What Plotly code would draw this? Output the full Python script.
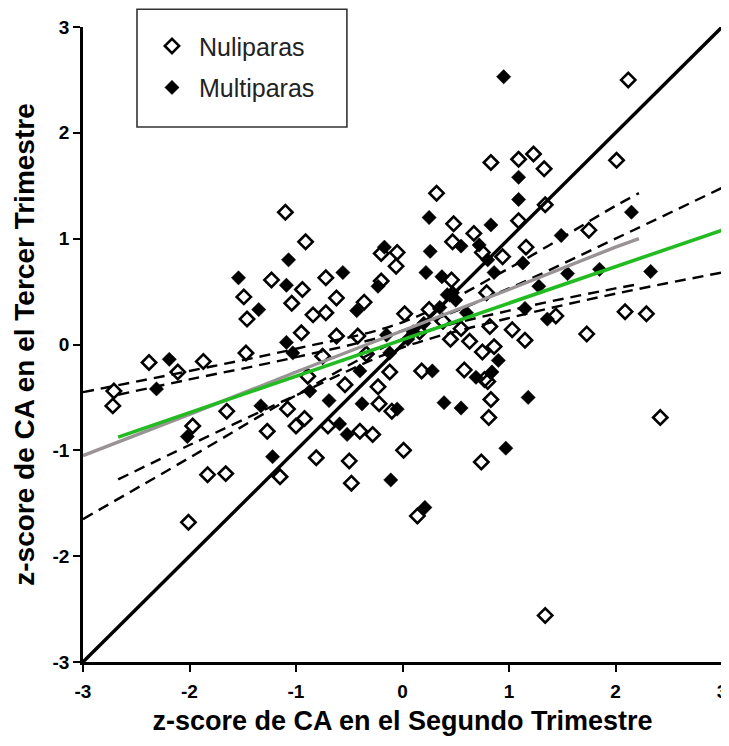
import plotly.graph_objects as go

# Nuliparas (open diamonds)
nul_x = [2.12, 0.32, 0.83, 1.09, 1.23, 1.33, 2.01, 0.48, 1.09, 1.34, 0.67, 0.47, 1.75, 0.94, 1.16,
         0.79, 1.44, 2.09, 2.29, 1.73, 1.15, 0.82, 1.03, 0.02, -1.10, -0.91, -1.23, -0.94, -0.72,
         -1.49, -1.04, -0.84, -0.72, -1.46, -0.20, -0.05, -0.06, -0.20, -0.62, -0.36, 0.46, 0.75,
         -2.38, -2.11, -1.87, -1.47, -2.71, -2.72, -1.65, -1.97, -1.27, -1.08, -1.00, -0.92, -1.83,
         -1.66, -1.15, -2.01, -0.95, -0.89, -0.81, -0.50, -0.48, 0.01, -0.22, -0.10, -0.70, -0.40,
         -0.28, -0.12, -0.23, -0.54, -0.75, -0.34, -0.62, -0.42, 0.18, 0.58, 0.77, 0.75, 0.63, 0.86,
         0.81, 0.83, 0.80, 0.74, 0.14, 1.34, 2.42, 0.25, 0.16, 0.45, 0.38, 0.55]
nul_y = [2.50, 1.43, 1.72, 1.75, 1.80, 1.66, 1.74, 1.14, 1.17, 1.32, 1.05, 0.97, 1.08, 0.83, 0.92,
         0.49, 0.27, 0.31, 0.29, 0.10, 0.04, 0.17, 0.14, 0.29, 1.25, 0.97, 0.61, 0.52, 0.63,
         0.45, 0.39, 0.28, 0.30, 0.24, 0.86, 0.87, 0.74, 0.60, 0.44, 0.40, 0.61, 0.87,
         -0.17, -0.26, -0.16, -0.08, -0.44, -0.58, -0.63, -0.77, -0.82, -0.61, -0.77, -0.70, -1.23,
         -1.22, -1.25, -1.68, 0.11, -0.30, -1.07, -1.10, -1.31, -1.00, -0.56, -0.63, -0.77, -0.82,
         -0.85, -0.26, -0.40, -0.38, -0.11, -0.09, 0.08, 0.08, -0.25, -0.24, -0.33, -0.07, 0.03, -0.02,
         -0.69, -0.52, -0.35, -1.11, -1.62, -2.56, -0.69, 0.33, 0.12, 0.05, 0.22, 0.15]

# Multiparas (filled diamonds)
mul_x = [0.95, 1.09, 1.09, 0.25, 0.83, 2.15, 1.49, 0.26, 0.22, 0.37, 0.47, 0.86, 1.13, 1.55, 1.85,
         2.33, 1.28, 1.15, 1.36, 0.55, 0.72, -0.17, -0.56, -0.23, -0.43, -1.07, -1.54, -1.09, -1.35,
         -2.19, -2.31, -2.02, -1.33, -1.22, -1.09, -1.03, -0.87, -0.69, -0.38, -0.05, -0.59, -0.52,
         -0.11, -0.15, -0.12, -0.40, 0.28, 0.69, 0.39, 0.55, 0.90, 0.84, 1.18, 0.97, 0.21,
         0.42, 0.50, 0.35, 0.10, 0.05, 0.60, 0.20, 0.80]
mul_y = [2.53, 1.58, 1.37, 1.20, 1.13, 1.25, 1.03, 0.88, 0.68, 0.64, 0.49, 0.68, 0.77, 0.67, 0.71,
         0.69, 0.55, 0.34, 0.24, 0.93, 0.94, 0.92, 0.68, 0.55, 0.32, 0.80, 0.63, 0.56, 0.33,
         -0.14, -0.42, -0.87, -0.58, -1.06, 0.02, -0.08, -0.44, -0.53, -0.56, -0.61, -0.75, -0.85,
         -1.28, 0.09, -0.08, -0.25, -0.25, -0.31, -0.55, -0.60, -0.15, -0.26, -0.50, -0.98, -1.54,
         0.47, 0.42, 0.35, 0.12, 0.05, 0.30, 0.20, 0.80]

# identity line
id_x = [-3, 3]
id_y = [-3, 3]

# gray regression line and its 95% band
gray_x = [-3, -2, -1, 0, 1, 2, 2.22]
gray_y = [-1.05, -0.66, -0.26, 0.13, 0.52, 0.92, 1.00]
gray_up = [-0.45, -0.25, -0.04, 0.21, 0.72, 1.31, 1.43]
gray_lo = [-1.65, -1.07, -0.48, 0.05, 0.32, 0.53, 0.57]

# green regression line and its 95% band
green_x = [-2.67, -2, -1, 0, 1, 2, 3]
green_y = [-0.875, -0.644, -0.30, 0.046, 0.39, 0.74, 1.08]
green_up = [-0.475, -0.33, -0.12, 0.13, 0.53, 1.00, 1.48]
green_lo = [-1.275, -0.95, -0.48, -0.03, 0.25, 0.48, 0.68]

# tick labels
tick_vals = [-3, -2, -1, 0, 1, 2, 3]
tick_text = ["-3", "-2", "-1", "0", "1", "2", "3"]

fig = go.Figure()

fig.add_trace(go.Scatter(x=nul_x, y=nul_y, mode="markers", name="Nuliparas", legendgroup="a",
                         marker=dict(symbol="diamond-open", size=11, color="black",
                                     line=dict(width=2.6, color="black"))))
fig.add_trace(go.Scatter(x=mul_x, y=mul_y, mode="markers", name="Multiparas", legendgroup="b",
                         marker=dict(symbol="diamond", size=11, color="black",
                                     line=dict(width=0.5, color="black"))))

dash = "11px,7px"
for xs, ys in [(gray_x, gray_up), (gray_x, gray_lo), (green_x, green_up), (green_x, green_lo)]:
    fig.add_trace(go.Scatter(x=xs, y=ys, mode="lines", showlegend=False, hoverinfo="skip",
                             line=dict(color="black", width=2.4, dash=dash, shape="spline")))

fig.add_trace(go.Scatter(x=id_x, y=id_y, mode="lines", showlegend=False,
                         line=dict(color="black", width=3.4)))
fig.add_trace(go.Scatter(x=gray_x, y=gray_y, mode="lines", showlegend=False,
                         line=dict(color="#9a9396", width=3.4)))
fig.add_trace(go.Scatter(x=green_x, y=green_y, mode="lines", showlegend=False,
                         line=dict(color="#22bb22", width=3.6)))

axis_common = dict(range=[-3, 3], tickmode="array", tickvals=tick_vals, ticktext=tick_text,
                   showline=True, linecolor="black", linewidth=2.6,
                   ticks="outside", ticklen=7, tickwidth=2.4, tickcolor="black",
                   showgrid=False, zeroline=False, automargin=False, ticklabeloverflow="allow",
                   tickfont=dict(family="Liberation Sans, Arial", size=19, color="black", weight="bold"))

fig.update_layout(
    width=729, height=746,
    margin=dict(l=75, r=15, t=19, b=92),
    plot_bgcolor="white", paper_bgcolor="white",
    font=dict(family="Liberation Sans, Arial", color="black"),
    xaxis=dict(**axis_common, ticklabelstandoff=3,
               title=dict(text="z-score de CA en el Segundo Trimestre", standoff=11,
                          font=dict(size=27, weight="bold", color="black"))),
    yaxis=dict(**axis_common, ticklabelstandoff=0,
               title=dict(text="z-score de CA en el Tercer Trimestre", standoff=10,
                          font=dict(size=28, weight="bold", color="black"))),
    legend=dict(x=0.097, y=1.006, xanchor="left", yanchor="top", bgcolor="rgba(0,0,0,0)",
                borderwidth=0, font=dict(size=25, color="#222222"), itemwidth=44,
                traceorder="grouped", tracegroupgap=6),
    shapes=[dict(type="rect", xref="paper", yref="paper", x0=0.0845, x1=0.413, y0=0.8425, y1=1.028,
                 line=dict(color="#333333", width=1.6), fillcolor="rgba(0,0,0,0)")],
)

fig.write_html("out.html")
